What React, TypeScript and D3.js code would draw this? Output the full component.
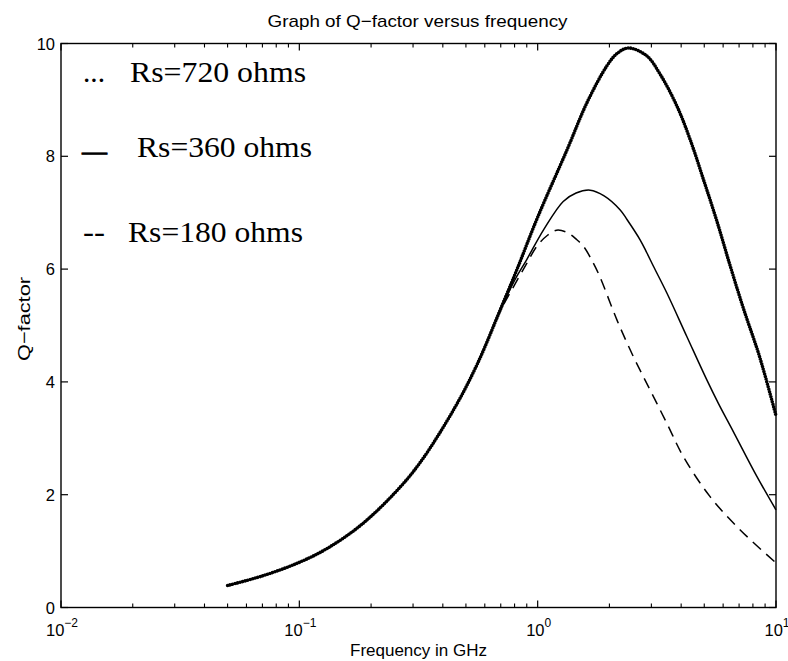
import React from "react";
import * as d3 from "d3";

// Frequency (GHz) and Q-factor readings for each source resistance
const freq720 = [0.05, 0.07, 0.1, 0.13, 0.18, 0.25, 0.32, 0.45, 0.56, 0.7, 0.82, 1.0, 1.33, 1.61, 1.95, 2.15, 2.4, 2.87, 3.26, 3.84, 4.36, 4.96, 5.64, 6.41, 7.29, 8.57, 10];
const q720 = [0.39, 0.56, 0.8, 1.04, 1.45, 2.02, 2.56, 3.55, 4.33, 5.3, 6.0, 6.92, 8.12, 8.95, 9.6, 9.82, 9.92, 9.78, 9.46, 8.89, 8.3, 7.59, 6.86, 6.07, 5.31, 4.42, 3.4];

const freq360 = [0.05, 0.07, 0.1, 0.13, 0.18, 0.25, 0.32, 0.45, 0.56, 0.7, 0.8, 0.9, 1.06, 1.28, 1.45, 1.66, 1.9, 2.22, 2.37, 2.69, 2.87, 3.06, 3.48, 4.22, 5.12, 5.73, 6.62, 8.3, 10];
const q360 = [0.39, 0.56, 0.8, 1.04, 1.45, 2.02, 2.56, 3.55, 4.33, 5.28, 5.8, 6.17, 6.7, 7.2, 7.35, 7.4, 7.3, 7.05, 6.88, 6.52, 6.29, 6.05, 5.58, 4.81, 4.04, 3.62, 3.12, 2.33, 1.73];

const freq180 = [0.05, 0.07, 0.1, 0.13, 0.18, 0.25, 0.32, 0.45, 0.56, 0.7, 0.8, 0.9, 0.99, 1.1, 1.2, 1.33, 1.46, 1.56, 1.71, 1.83, 2.15, 2.52, 2.96, 3.48, 4.08, 5.28, 7.06, 10];
const q180 = [0.39, 0.56, 0.8, 1.04, 1.45, 2.02, 2.56, 3.55, 4.33, 5.27, 5.72, 6.1, 6.4, 6.6, 6.69, 6.65, 6.52, 6.4, 6.11, 5.85, 5.1, 4.45, 3.86, 3.27, 2.68, 1.97, 1.38, 0.79];

const xMajor = [0.01, 0.1, 1, 10];
const xMajorExp = ["−2", "−1", "0", "1"];
const yTicks = [0, 2, 4, 6, 8, 10];

const legendMarks = ["...", "—", "--"];
const legendLabels = ["Rs=720 ohms", "Rs=360 ohms", "Rs=180 ohms"];

const title = "Graph of Q−factor versus frequency";
const xLabel = "Frequency in GHz";
const yLabel = "Q−factor";

export default function App() {
  const L = 61, R = 776, T = 43.5, B = 607.5;
  const x = d3.scaleLog().domain([0.01, 10]).range([L, R]);
  const y = d3.scaleLinear().domain([0, 10]).range([B, T]);
  const line = d3
    .line<[number, number]>()
    .x((d) => x(d[0]))
    .y((d) => y(d[1]))
    .curve(d3.curveCatmullRom.alpha(0.5));

  const p720 = line(freq720.map((f, i) => [f, q720[i]]) as [number, number][]) || "";
  const p360 = line(freq360.map((f, i) => [f, q360[i]]) as [number, number][]) || "";
  const p180 = line(freq180.map((f, i) => [f, q180[i]]) as [number, number][]) || "";

  const minor: number[] = [];
  [0.01, 0.1, 1].forEach((d) => {
    for (let k = 2; k <= 9; k++) minor.push(k * d);
  });

  const sans = "'Liberation Sans', Arial, Helvetica, sans-serif";
  const serif = "'Liberation Serif', 'Times New Roman', serif";

  return (
    <svg
      width={788}
      height={661}
      style={{ position: "absolute", left: 0, top: 0, background: "#fff" }}
    >
      <rect x={0} y={0} width={788} height={661} fill="#fff" />
      {/* title */}
      <text x={267.5} y={26.5} fontFamily={sans} fontSize={17} textLength={300} lengthAdjust="spacingAndGlyphs" fill="#000">
        {title}
      </text>

      {/* axes box */}
      <rect x={L} y={T} width={R - L} height={B - T} fill="none" stroke="#000" strokeWidth={1.4} />

      {/* x ticks */}
      {xMajor.map((v) => (
        <g key={"xm" + v}>
          <line x1={x(v)} x2={x(v)} y1={B} y2={B - 7} stroke="#000" strokeWidth={1.2} />
          <line x1={x(v)} x2={x(v)} y1={T} y2={T + 7} stroke="#000" strokeWidth={1.2} />
        </g>
      ))}
      {minor.map((v) => (
        <g key={"xn" + v}>
          <line x1={x(v)} x2={x(v)} y1={B} y2={B - 4} stroke="#000" strokeWidth={1.1} />
          <line x1={x(v)} x2={x(v)} y1={T} y2={T + 4} stroke="#000" strokeWidth={1.1} />
        </g>
      ))}
      {xMajor.map((v, i) => (
        <text key={"xl" + v} x={x(v) + 1} y={636} textAnchor="middle" fontFamily={sans} fontSize={16.5} fill="#000">
          <tspan>10</tspan>
          <tspan dy={-9} fontSize={12}>{xMajorExp[i]}</tspan>
        </text>
      ))}

      {/* y ticks */}
      {yTicks.map((v) => (
        <g key={"y" + v}>
          <line x1={L} x2={L + 7} y1={y(v)} y2={y(v)} stroke="#000" strokeWidth={1.2} />
          <line x1={R} x2={R - 7} y1={y(v)} y2={y(v)} stroke="#000" strokeWidth={1.2} />
          <text x={55} y={y(v) + 6} textAnchor="end" fontFamily={sans} fontSize={16.5} fill="#000">
            {v}
          </text>
        </g>
      ))}

      {/* axis labels */}
      <text x={350} y={656} fontFamily={sans} fontSize={16} textLength={137} lengthAdjust="spacingAndGlyphs" fill="#000">
        {xLabel}
      </text>
      <text transform="translate(30,361) rotate(-90)" x={0} y={0} fontFamily={sans} fontSize={17} textLength={84} lengthAdjust="spacingAndGlyphs" fill="#000">
        {yLabel}
      </text>

      {/* curves */}
      <path d={p720} fill="none" stroke="#000" strokeWidth={3.6} strokeLinecap="round" strokeDasharray="0,2.6" />
      <path d={p360} fill="none" stroke="#000" strokeWidth={1.5} />
      <path d={p180} fill="none" stroke="#000" strokeWidth={1.5} strokeDasharray="11,7" />

      {/* legend */}
      <text x={83} y={82} fontFamily={serif} fontSize={29} textLength={22} lengthAdjust="spacingAndGlyphs" fill="#000">
        {legendMarks[0]}
      </text>
      <text x={130} y={82} fontFamily={serif} fontSize={29} textLength={176} lengthAdjust="spacingAndGlyphs" fill="#000">
        {legendLabels[0]}
      </text>
      <text x={82} y={161} fontFamily={serif} fontSize={29} textLength={25} lengthAdjust="spacingAndGlyphs" fill="#000" stroke="#000" strokeWidth={0.9}>
        {legendMarks[1]}
      </text>
      <text x={137} y={157} fontFamily={serif} fontSize={29} textLength={175} lengthAdjust="spacingAndGlyphs" fill="#000">
        {legendLabels[1]}
      </text>
      <text x={83} y={242} fontFamily={serif} fontSize={29} textLength={22} lengthAdjust="spacingAndGlyphs" fill="#000">
        {legendMarks[2]}
      </text>
      <text x={128} y={242} fontFamily={serif} fontSize={29} textLength={175} lengthAdjust="spacingAndGlyphs" fill="#000">
        {legendLabels[2]}
      </text>
    </svg>
  );
}
